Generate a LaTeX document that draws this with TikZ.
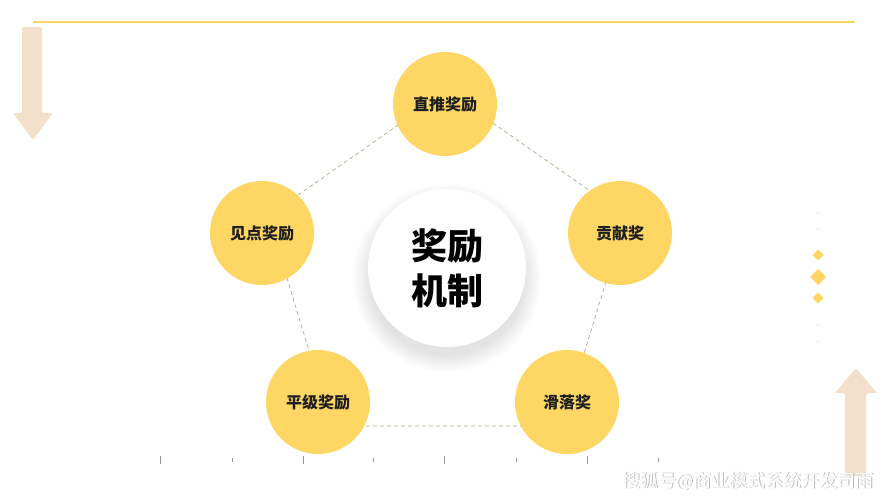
\documentclass[tikz,border=0pt]{standalone}
\usepackage{fontspec}
\newfontfamily\cjk{Noto Sans CJK SC}
\definecolor{gold}{RGB}{253,214,100}
\definecolor{peach}{RGB}{243,224,203}
\definecolor{dashc}{RGB}{175,170,135}
\definecolor{topline}{RGB}{247,215,100}
\definecolor{tickc}{RGB}{150,150,150}
\definecolor{dotc}{RGB}{250,235,190}
\begin{document}
\begin{tikzpicture}[x=1pt,y=-1pt,
  award/.style={circle, fill=gold, minimum size=104pt, inner sep=0pt,
    font=\cjk\bfseries\fontsize{16}{18}\selectfont, text=black!88},
  pentedge/.style={draw=dashc, dash pattern=on 4pt off 3pt, line width=0.7pt},
  arrowfill/.style={fill=peach, rounded corners=2pt},
  diam/.style={fill=gold},
]
\useasboundingbox[fill=white] (0,0) rectangle (889,500);

% top line
\draw[topline, line width=1.6pt] (33,22) -- (855,22);

% left down arrow
\fill[arrowfill] (22,27) -- (42,27) -- (42,113) -- (53,113) -- (33,140) -- (13,113) -- (22,113) -- cycle;
% right up arrow
\fill[arrowfill] (845,476) -- (845,393) -- (835,393) -- (856,368) -- (877,393) -- (866,393) -- (866,476) -- cycle;

% right decoration
\fill[dotc] (818,213) circle (1.2);
\fill[dotc] (818,229) circle (1.2);
\fill[diam] (818,249.5) -- (823.5,255) -- (818,260.5) -- (812.5,255) -- cycle;
\fill[diam] (818,269) -- (826,277) -- (818,285) -- (810,277) -- cycle;
\fill[diam] (818,292.5) -- (823.5,298) -- (818,303.5) -- (812.5,298) -- cycle;
\fill[dotc] (818,325) circle (1.2);
\fill[dotc] (818,342) circle (1.2);

% bottom ticks
\foreach \x/\h in {160/4,232/2,303/4,373/2,444/4,516/2,587/4,658/2}
  \draw[tickc, line width=0.6pt] (\x,460-\h) -- (\x,460+\h);

% pentagon
\coordinate (p1) at (447,91);
\coordinate (p2) at (626,216);
\coordinate (p3) at (562,426);
\coordinate (p4) at (332,426);
\coordinate (p5) at (268,216);
\draw[pentedge] (p1) -- (p2) -- (p3) -- (p4) -- (p5) -- cycle;

% center shadow
\foreach \i in {1,...,14}
  \fill[black, opacity=0.007] (447,278) circle (76+\i*1.3);

\node[circle, fill=white, minimum size=158pt, inner sep=0pt] (c) at (447,268) {};
\node[align=center, font=\cjk\bfseries\fontsize{36}{45}\selectfont, text=black] (ct) at (447,268) {奖励\\机制};

\node[award] (a1) at (445,104) {直推奖励};
\node[award] (a2) at (620,233) {贡献奖};
\node[award] (a3) at (567,402) {滑落奖};
\node[award] (a4) at (318,402) {平级奖励};
\node[award] (a5) at (262,233) {见点奖励};

% watermark
\node[anchor=west, font=\cjk\fontsize{18}{18}\selectfont, text=gray!55] (wm0) at (619.8,481.8) {搜狐号@商业模式系统开发司雨};
\node[anchor=west, font=\cjk\fontsize{18}{18}\selectfont, text=white] (wm) at (619,481) {搜狐号@商业模式系统开发司雨};
\end{tikzpicture}
\end{document}
